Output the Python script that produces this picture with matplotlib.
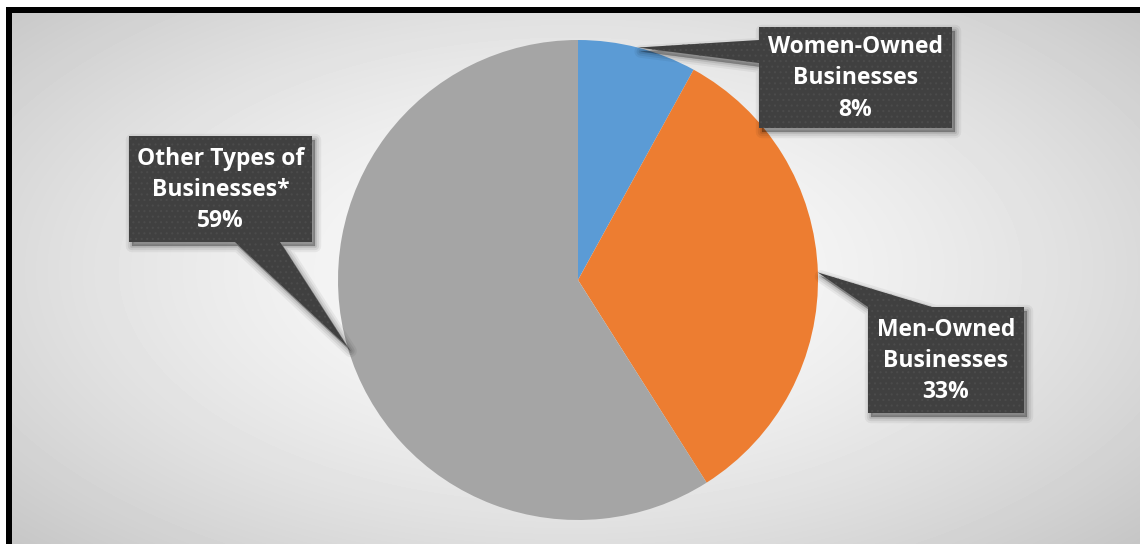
import numpy as np
import matplotlib.pyplot as plt
from matplotlib.patches import Polygon, Rectangle

# Datos del gráfico
etiquetas = ['Women-Owned\nBusinesses', 'Men-Owned\nBusinesses', 'Other Types of\nBusinesses*']
porcentajes = [8, 33, 59]
colores = ['#5B9BD5', '#ED7D31', '#A5A5A5']

W, H = 1140, 544
centro = (578, H - 280)
radio = 240

fig = plt.figure(figsize=(W / 100, H / 100), dpi=100)
ax = fig.add_axes([0, 0, 1, 1])

# Fondo con degradado radial
yy, xx = np.mgrid[0:H, 0:W]
d = np.sqrt(((xx - 570) / 640.0) ** 2 + ((yy - 270) / 330.0) ** 2)
d = np.clip(d / 1.25, 0, 1)
fondo = 0.99 - (0.99 - 0.765) * d ** 1.5
ax.imshow(fondo, cmap='gray', vmin=0, vmax=1, extent=(0, W, 0, H), origin='upper', zorder=0)

# Marco negro (solo arriba e izquierda)
ax.add_patch(Rectangle((0, 0), 6, H, fc='white', ec='none', zorder=1))
ax.add_patch(Rectangle((0, H - 7), W, 7, fc='white', ec='none', zorder=1))
ax.add_patch(Rectangle((6, 0), 6, H - 7, fc='black', ec='none', zorder=2))
ax.add_patch(Rectangle((6, H - 13), W - 6, 6, fc='black', ec='none', zorder=2))

# Tarta
ax.pie(porcentajes, colors=colores, startangle=90, counterclock=False,
       center=centro, radius=radio, wedgeprops=dict(linewidth=0), frame=True)

# Punta de cada globo en el centro angular de su porción
acum = np.cumsum([0] + porcentajes)
medios = (acum[:-1] + acum[1:]) / 2 / 100 * 2 * np.pi
puntas = [(centro[0] + radio * np.sin(a), centro[1] + radio * np.cos(a)) for a in medios]

def py(y):
    return H - y

# Cajas (izq, arriba, der, abajo) en píxeles desde arriba
cajas = [(759, 27, 952, 128), (868, 307, 1024, 413), (129, 136, 312, 242)]

def globo(i):
    x0, y0, x1, y1 = cajas[i]
    t = puntas[i]
    if i == 0:
        pts = [(x0, py(y0)), (x1, py(y0)), (x1, py(y1)), (x0, py(y1)), (x0, py(63)), t, (x0, py(40))]
    elif i == 1:
        pts = [(x0, py(y0)), t, (932, py(y0)), (x1, py(y0)), (x1, py(y1)), (x0, py(y1))]
    else:
        pts = [(x0, py(y0)), (x1, py(y0)), (x1, py(y1)), (280, py(y1)), t, (235, py(y1)), (x0, py(y1))]
    return pts

plt.rcParams['hatch.linewidth'] = 0.8
for i in range(3):
    pts = np.array(globo(i))
    # sombra difusa
    for lw, al in [(9, 0.05), (6, 0.07), (3, 0.09), (0.5, 0.12)]:
        ax.add_patch(Polygon(pts + [3, -4], closed=True, fc='black', ec='black',
                             lw=lw, alpha=al, joinstyle='round', zorder=4))
    ax.add_patch(Polygon(pts, closed=True, fc='#404040', ec='#4b4b4b', lw=0,
                         hatch='...', zorder=5))
    x0, y0, x1, y1 = cajas[i]
    texto = etiquetas[i] + '\n' + str(porcentajes[i]) + '%'
    ax.text((x0 + x1) / 2, py((y0 + y1) / 2 + 1), texto, ha='center', va='center',
            color='white', fontsize=16.5, fontweight='bold', family='Open Sans',
            linespacing=1.4, zorder=6)

ax.set_xlim(0, W)
ax.set_ylim(0, H)
ax.set_aspect('auto')
ax.axis('off')

plt.savefig('out.png', dpi=100)
